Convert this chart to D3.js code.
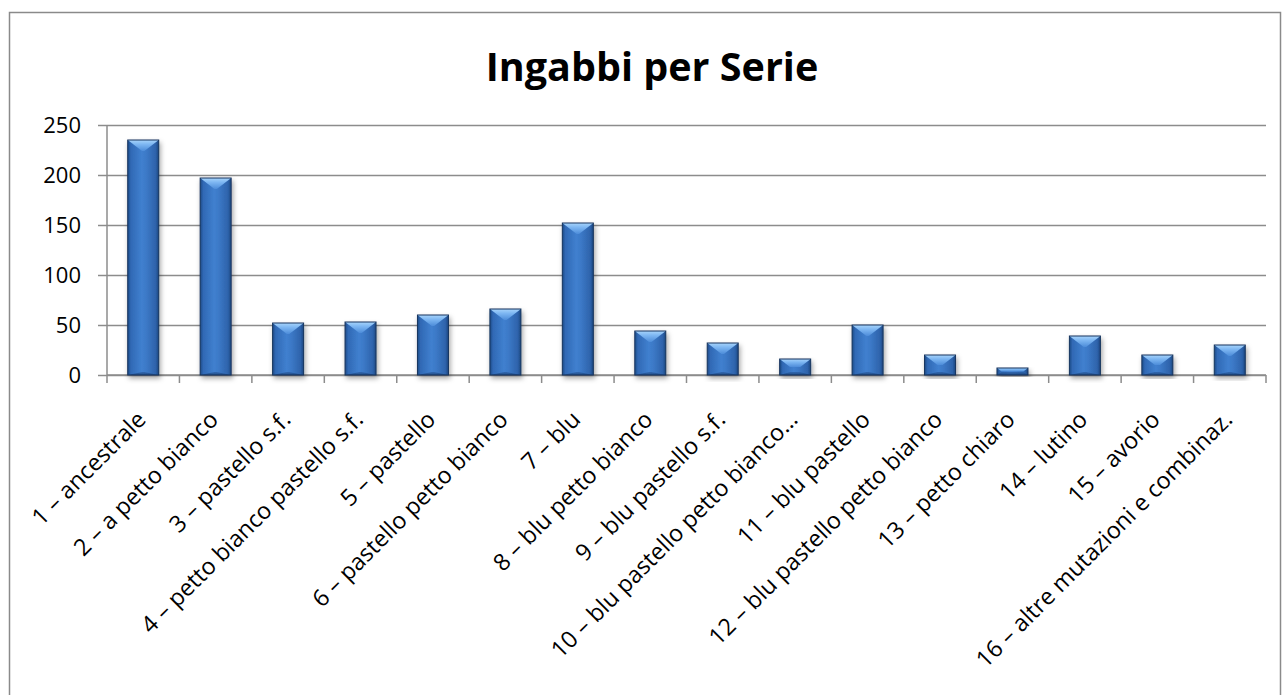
<!DOCTYPE html>
<html>
<head>
<meta charset="utf-8">
<script src="https://cdn.jsdelivr.net/npm/d3@7"></script>
<style>
    body { margin: 0; background: #fff; }
    svg { display: block; }
    text { font-family: "Open Sans", "Noto Sans", sans-serif; fill: #000; }
</style>
</head>
<body>
<div id="chart"></div>
<script>
var chartTitle = "Ingabbi per Serie";

var categories = [
    "1 – ancestrale",
    "2 – a petto bianco",
    "3 – pastello s.f.",
    "4 – petto bianco pastello s.f.",
    "5 – pastello",
    "6 – pastello petto bianco",
    "7 – blu",
    "8 – blu petto bianco",
    "9 – blu pastello s.f.",
    "10 – blu pastello petto bianco…",
    "11 – blu pastello",
    "12 – blu pastello petto bianco",
    "13 – petto chiaro",
    "14 – lutino",
    "15 – avorio",
    "16 – altre mutazioni e combinaz."
];

var values = [235, 197, 52, 53, 60, 66, 152, 44, 32, 16, 50, 20, 7, 39, 20, 30];

var yTicks = [0, 50, 100, 150, 200, 250];

var W = 1284, H = 695;

var margin = {top: 125, right: 18, bottom: 320, left: 107};
var width = W - margin.left - margin.right,
    height = H - margin.top - margin.bottom;

var svg = d3.select("#chart")
    .append("svg")
    .attr("width", W)
    .attr("height", H);

var defs = svg.append("defs");

// bar body: dark edges, lighter middle
var bodyGrad = defs.append("linearGradient")
    .attr("id", "bodyGrad")
    .attr("x1", 0).attr("y1", 0).attr("x2", 1).attr("y2", 0);
bodyGrad.selectAll("stop")
    .data([[0, "#1d4a86"], [0.1, "#3069b5"], [0.45, "#4080cf"], [0.6, "#3c79c7"], [0.9, "#2e63ab"], [1, "#1c467f"]])
    .enter().append("stop")
    .attr("offset", function (d) { return d[0]; })
    .attr("stop-color", function (d) { return d[1]; });

var topGrad = defs.append("linearGradient")
    .attr("id", "topGrad")
    .attr("x1", 0).attr("y1", 0).attr("x2", 0).attr("y2", 1);
topGrad.selectAll("stop")
    .data([[0, "#a8d4fb"], [0.4, "#7cb6f2"], [1, "#4d8cd9"]])
    .enter().append("stop")
    .attr("offset", function (d) { return d[0]; })
    .attr("stop-color", function (d) { return d[1]; });

var botGrad = defs.append("linearGradient")
    .attr("id", "botGrad")
    .attr("x1", 0).attr("y1", 0).attr("x2", 0).attr("y2", 1);
botGrad.selectAll("stop")
    .data([[0, "#2d62aa"], [1, "#1b4173"]])
    .enter().append("stop")
    .attr("offset", function (d) { return d[0]; })
    .attr("stop-color", function (d) { return d[1]; });

var shadow = defs.append("filter")
    .attr("id", "shadow")
    .attr("x", "-30%").attr("y", "-10%")
    .attr("width", "160%").attr("height", "130%");
shadow.append("feDropShadow")
    .attr("dx", 1.5).attr("dy", 3)
    .attr("stdDeviation", 2.5)
    .attr("flood-color", "#000")
    .attr("flood-opacity", 0.35);

// outer chart frame
svg.append("rect")
    .attr("x", 9.5).attr("y", 12.5)
    .attr("width", 1271).attr("height", 700)
    .attr("fill", "none")
    .attr("stroke", "#8a8a8a")
    .attr("stroke-width", 1.5);

svg.append("text")
    .attr("x", 652)
    .attr("y", 81)
    .attr("text-anchor", "middle")
    .style("font-size", "39.5px")
    .style("font-weight", "bold")
    .text(chartTitle);

var x = d3.scaleBand()
    .domain(categories)
    .range([0, width])
    .paddingInner(0.572)
    .paddingOuter(0.286);

var y = d3.scaleLinear()
    .domain([0, 250])
    .range([height, 0]);

var g = svg.append("g")
    .attr("transform", "translate(" + margin.left + "," + margin.top + ")");

// gridlines
g.append("g")
    .attr("class", "grid")
    .call(d3.axisLeft(y).tickValues(yTicks).tickSize(-width).tickFormat(""))
    .call(function (s) {
        s.select(".domain").remove();
        s.selectAll("line").attr("stroke", "#8c8c8c").attr("stroke-width", 1.5);
    });

// y axis
g.append("g")
    .attr("class", "axis axis--y")
    .call(d3.axisLeft(y).tickValues(yTicks).tickSize(9).tickPadding(17))
    .call(function (s) {
        s.select(".domain").attr("stroke", "#8c8c8c").attr("stroke-width", 1.5).attr("d", "M0," + height + "V0");
        s.selectAll("line").attr("stroke", "#8c8c8c").attr("stroke-width", 1.5);
        s.selectAll("text")
            .attr("dy", "0.36em")
            .style("font-size", "22px")
            .style("font-family", "\"Open Sans\", sans-serif");
    });

// x axis with labels at band centers
var xAxis = g.append("g")
    .attr("class", "axis axis--x")
    .attr("transform", "translate(0," + height + ")")
    .call(d3.axisBottom(x).tickSize(0));

xAxis.select(".domain")
    .attr("stroke", "#8c8c8c")
    .attr("stroke-width", 1.5)
    .attr("d", "M0,0H" + width);

xAxis.selectAll("text")
    .attr("x", 0).attr("y", 0).attr("dy", 0)
    .attr("text-anchor", "end")
    .attr("transform", "translate(4,46) rotate(-45)")
    .style("font-size", "23.3px")
    .style("font-family", "\"Open Sans\", sans-serif");

// category boundary ticks
var half = (x.step() - x.bandwidth()) / 2;
var bounds = categories.map(function (c) { return x(c) - half; });
bounds.push(width);

xAxis.selectAll(".bound")
    .data(bounds)
    .enter().append("line")
    .attr("class", "bound")
    .attr("x1", function (d) { return d; })
    .attr("x2", function (d) { return d; })
    .attr("y1", 0)
    .attr("y2", 8)
    .attr("stroke", "#8c8c8c")
    .attr("stroke-width", 1.5);

// bevelled bars
var bars = g.selectAll(".bar")
    .data(values)
    .enter().append("g")
    .attr("class", "bar")
    .attr("filter", "url(#shadow)");

bars.each(function (d, i) {
    var bx = x(categories[i]),
        bw = x.bandwidth(),
        by = y(d),
        bh = height - y(d);
    var bv = Math.min(11, bh / 2),
        bhz = Math.min(bw / 2 - 1, bv * 1.3);
    var s = d3.select(this);

    s.append("rect")
        .attr("x", bx).attr("y", by)
        .attr("width", bw).attr("height", bh)
        .attr("fill", "url(#bodyGrad)");

    s.append("path")
        .attr("d", "M" + bx + "," + (by + bh) + "H" + (bx + bw) +
            "L" + (bx + bw - bhz) + "," + (by + bh - Math.min(3, bv)) +
            "H" + (bx + bhz) + "Z")
        .attr("fill", "url(#botGrad)")
        .attr("opacity", 0.8);

    s.append("path")
        .attr("d", "M" + bx + "," + by + "H" + (bx + bw) +
            "L" + (bx + bw - bhz) + "," + (by + bv) +
            "H" + (bx + bhz) + "Z")
        .attr("fill", "url(#topGrad)");

    s.append("rect")
        .attr("x", bx).attr("y", by)
        .attr("width", bw).attr("height", bh)
        .attr("fill", "none")
        .attr("stroke", "#17355e")
        .attr("stroke-width", 1);
});
</script>
</body>
</html>
